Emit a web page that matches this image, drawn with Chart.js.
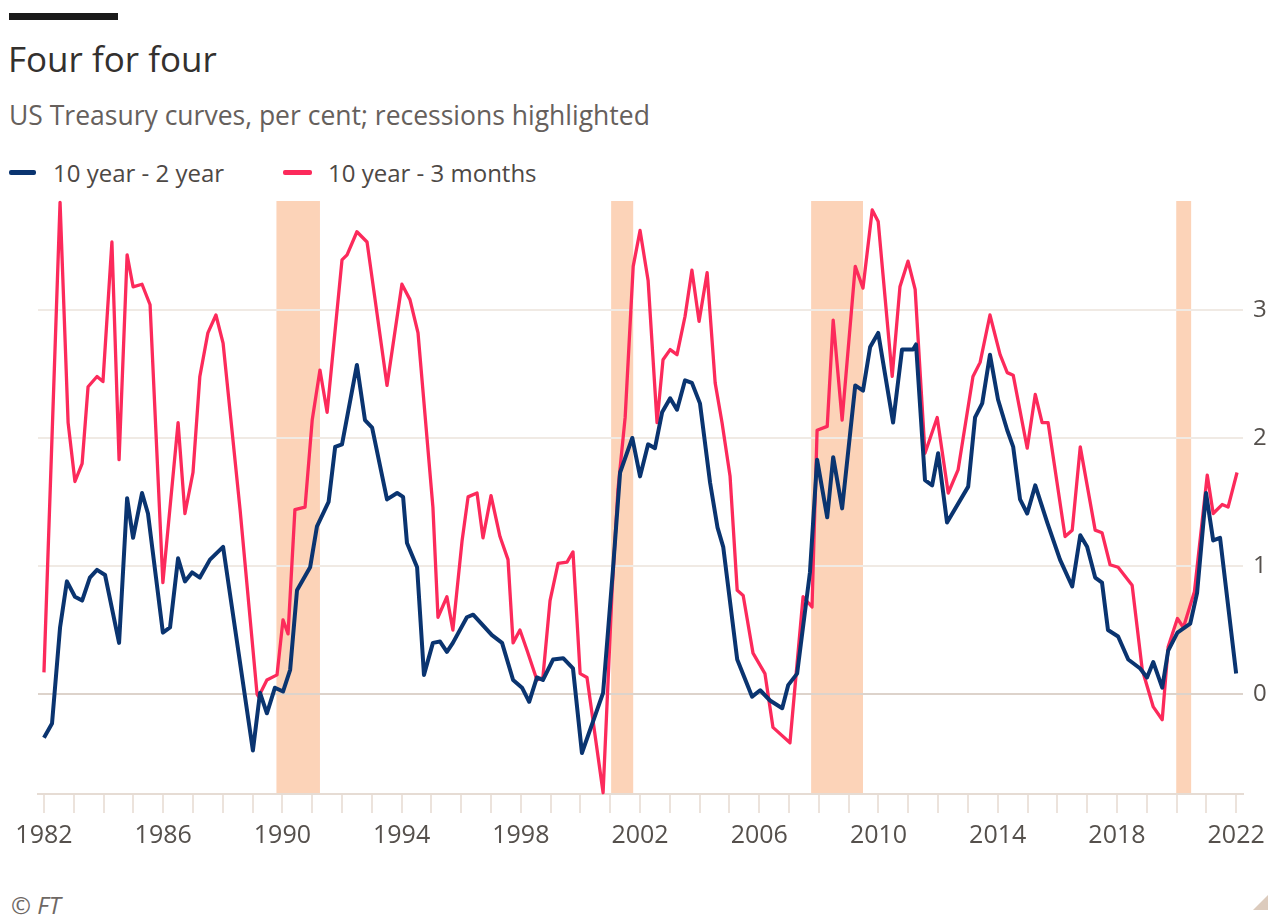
<!DOCTYPE html>
<html>
<head>
<meta charset="utf-8">
<script src="https://cdn.jsdelivr.net/npm/chart.js@4.4.1/dist/chart.umd.min.js"></script>
<style>
  body { margin: 0; background: #ffffff; font-family: "Open Sans", "Noto Sans", sans-serif; }
  #page { position: relative; width: 1275px; height: 920px; overflow: hidden; }
  .abs { position: absolute; white-space: nowrap; }
  #topBar { left: 9px; top: 13px; width: 109px; height: 7px; background: #1a1a1a; }
  #title { left: 8px; top: 41px; font-size: 35px; line-height: 35px; color: #33302e; }
  #subtitle { left: 9px; top: 102px; font-size: 26.5px; line-height: 27px; color: #66605c; }
  .legendKey { height: 5px; border-radius: 2px; }
  .legendText { font-size: 24px; line-height: 24px; color: #4d4845; }
  #credit { left: 11px; top: 893px; font-size: 24px; line-height: 24px; color: #6e6864; font-style: italic; }
  #corner { left: 1253px; top: 895px; width: 0; height: 0; border-left: 15px solid transparent; border-bottom: 15px solid #dccbbd; }
  #chartBox { left: 0; top: 190px; width: 1275px; height: 670px; }
</style>
</head>
<body>
<div id="page">
  <div class="abs" id="topBar"></div>
  <div class="abs" id="title">Four for four</div>
  <div class="abs" id="subtitle">US Treasury curves, per cent; recessions highlighted</div>
  <div class="abs legendKey" style="left:9px; top:170px; width:27px; background:#0a3470;"></div>
  <div class="abs legendText" style="left:53px; top:161px;">10 year - 2 year</div>
  <div class="abs legendKey" style="left:283px; top:170px; width:29px; background:#fc2a5b;"></div>
  <div class="abs legendText" style="left:328px; top:161px;">10 year - 3 months</div>
  <div class="abs" id="chartBox"><canvas id="curveChart"></canvas></div>
  <div class="abs" id="credit">© FT</div>
  <div class="abs" id="corner"></div>
</div>
<script>
// 10 year - 2 year spread
let blueYears = [1982.0, 1982.27, 1982.54, 1982.77, 1983.04, 1983.28, 1983.54, 1983.78, 1984.05, 1984.52,
  1984.79, 1984.99, 1985.29, 1985.49, 1985.99, 1986.23, 1986.5, 1986.73, 1986.97, 1987.23,
  1987.57, 1988.01, 1989.01, 1989.25, 1989.48, 1989.75, 1990.02, 1990.26, 1990.49, 1990.93,
  1991.16, 1991.55, 1991.77, 1992.0, 1992.5, 1992.77, 1993.01, 1993.51, 1993.85, 1994.05,
  1994.18, 1994.52, 1994.75, 1995.05, 1995.29, 1995.52, 1995.72, 1996.19, 1996.4, 1997.03,
  1997.37, 1997.74, 1998.04, 1998.28, 1998.54, 1998.74, 1999.08, 1999.42, 1999.75, 2000.05,
  2000.76, 2001.09, 2001.33, 2001.74, 2002.0, 2002.27, 2002.5, 2002.74, 2003.01, 2003.24,
  2003.51, 2003.74, 2004.01, 2004.35, 2004.6, 2004.79, 2005.26, 2005.76, 2006.03, 2006.36,
  2006.77, 2006.97, 2007.27, 2007.7, 2007.94, 2008.28, 2008.48, 2008.78, 2009.22, 2009.48,
  2009.72, 2009.99, 2010.49, 2010.79, 2011.16, 2011.26, 2011.56, 2011.8, 2012.0, 2012.3,
  2013.01, 2013.24, 2013.48, 2013.74, 2014.01, 2014.32, 2014.52, 2014.75, 2014.99, 2015.26,
  2015.66, 2016.09, 2016.5, 2016.77, 2017.0, 2017.27, 2017.5, 2017.7, 2018.04, 2018.38,
  2018.78, 2019.01, 2019.22, 2019.52, 2019.72, 2020.03, 2020.46, 2020.69, 2020.99, 2021.23,
  2021.46, 2022.0];
let blueValues = [-0.34, -0.23, 0.52, 0.88, 0.76, 0.73, 0.91, 0.97, 0.93, 0.40,
  1.53, 1.22, 1.57, 1.41, 0.48, 0.52, 1.06, 0.88, 0.95, 0.91,
  1.05, 1.15, -0.44, 0.01, -0.15, 0.05, 0.02, 0.19, 0.81, 0.99,
  1.31, 1.50, 1.93, 1.95, 2.57, 2.14, 2.08, 1.52, 1.57, 1.54,
  1.18, 0.99, 0.15, 0.40, 0.41, 0.33, 0.40, 0.60, 0.62, 0.46,
  0.40, 0.11, 0.05, -0.06, 0.13, 0.11, 0.27, 0.28, 0.20, -0.46,
  0.01, 0.97, 1.73, 2.00, 1.70, 1.95, 1.92, 2.20, 2.31, 2.22,
  2.45, 2.43, 2.27, 1.65, 1.30, 1.15, 0.27, -0.02, 0.03, -0.05,
  -0.11, 0.07, 0.16, 0.95, 1.83, 1.38, 1.85, 1.45, 2.41, 2.37,
  2.71, 2.82, 2.12, 2.69, 2.69, 2.73, 1.67, 1.63, 1.88, 1.34,
  1.62, 2.16, 2.27, 2.65, 2.30, 2.06, 1.93, 1.52, 1.41, 1.63,
  1.34, 1.05, 0.84, 1.24, 1.15, 0.91, 0.87, 0.50, 0.45, 0.27,
  0.20, 0.13, 0.25, 0.05, 0.34, 0.48, 0.55, 0.79, 1.57, 1.20,
  1.22, 0.16];

// 10 year - 3 months spread
let redYears = [1982.0, 1982.54, 1982.81, 1983.04, 1983.28, 1983.48, 1983.78, 1983.98, 1984.28, 1984.52,
  1984.79, 1984.99, 1985.29, 1985.56, 1985.99, 1986.5, 1986.73, 1987.0, 1987.23, 1987.5,
  1987.77, 1988.01, 1988.58, 1989.15, 1989.2, 1989.48, 1989.82, 1990.02, 1990.19, 1990.42,
  1990.76, 1991.0, 1991.26, 1991.5, 1992.0, 1992.17, 1992.5, 1992.84, 1993.11, 1993.51,
  1994.01, 1994.28, 1994.55, 1995.05, 1995.22, 1995.52, 1995.72, 1996.03, 1996.23, 1996.53,
  1996.73, 1997.0, 1997.3, 1997.57, 1997.74, 1997.97, 1998.21, 1998.54, 1998.74, 1998.98,
  1999.25, 1999.55, 1999.75, 1999.99, 2000.22, 2000.76, 2001.06, 2001.26, 2001.5, 2001.77,
  2002.0, 2002.27, 2002.57, 2002.77, 2003.01, 2003.24, 2003.51, 2003.74, 2003.98, 2004.25,
  2004.52, 2004.75, 2005.02, 2005.26, 2005.46, 2005.79, 2006.19, 2006.46, 2007.03, 2007.47,
  2007.77, 2007.94, 2008.28, 2008.48, 2008.78, 2009.22, 2009.48, 2009.79, 2009.99, 2010.46,
  2010.72, 2010.99, 2011.23, 2011.56, 2011.97, 2012.34, 2012.67, 2013.17, 2013.41, 2013.74,
  2014.08, 2014.32, 2014.52, 2014.99, 2015.26, 2015.49, 2015.69, 2016.26, 2016.5, 2016.77,
  2017.27, 2017.5, 2017.77, 2018.04, 2018.51, 2018.85, 2019.22, 2019.52, 2019.72, 2020.03,
  2020.23, 2020.6, 2021.03, 2021.23, 2021.53, 2021.73, 2022.03];
let redValues = [0.17, 3.84, 2.12, 1.66, 1.80, 2.40, 2.48, 2.44, 3.53, 1.83,
  3.43, 3.18, 3.20, 3.04, 0.87, 2.12, 1.41, 1.73, 2.48, 2.82,
  2.96, 2.74, 1.44, 0.00, -0.02, 0.11, 0.15, 0.58, 0.47, 1.44,
  1.46, 2.14, 2.53, 2.20, 3.39, 3.43, 3.61, 3.53, 3.08, 2.41,
  3.20, 3.08, 2.82, 1.46, 0.60, 0.76, 0.50, 1.20, 1.54, 1.57,
  1.22, 1.55, 1.23, 1.05, 0.40, 0.50, 0.34, 0.11, 0.13, 0.73,
  1.02, 1.03, 1.11, 0.16, 0.13, -0.77, 0.80, 1.60, 2.16, 3.34,
  3.62, 3.23, 2.12, 2.61, 2.69, 2.65, 2.95, 3.31, 2.91, 3.29,
  2.43, 2.12, 1.70, 0.81, 0.77, 0.32, 0.16, -0.26, -0.38, 0.76,
  0.68, 2.06, 2.09, 2.92, 2.14, 3.34, 3.17, 3.78, 3.69, 2.48,
  3.18, 3.38, 3.16, 1.88, 2.16, 1.57, 1.75, 2.48, 2.59, 2.96,
  2.65, 2.51, 2.49, 1.92, 2.34, 2.12, 2.12, 1.23, 1.28, 1.93,
  1.28, 1.26, 1.01, 0.99, 0.85, 0.19, -0.10, -0.20, 0.37, 0.59,
  0.52, 0.80, 1.71, 1.41, 1.48, 1.46, 1.73];

// recessions, start and end as decimal years
let recessionStart = [1989.8, 2001.03, 2007.74, 2019.99];
let recessionEnd = [1991.26, 2001.77, 2009.48, 2020.49];

let yTicks = [0, 1, 2, 3];

function toPoints(xs, ys) {
    let out = [];
    for (let i = 0; i < xs.length; i++) {
        out.push({ x: xs[i], y: ys[i] });
    }
    return out;
}

// peach bands behind the grid
const recessionBands = {
    id: 'recessionBands',
    beforeDraw(chart) {
        const ctx = chart.ctx;
        const area = chart.chartArea;
        const xs = chart.scales.x;
        ctx.save();
        ctx.fillStyle = '#fcd3b8';
        for (let i = 0; i < recessionStart.length; i++) {
            let x0 = xs.getPixelForValue(recessionStart[i]);
            let x1 = xs.getPixelForValue(recessionEnd[i]);
            ctx.fillRect(x0, area.top, x1 - x0, area.bottom - area.top);
        }
        ctx.restore();
    }
};

const ctx = document.getElementById('curveChart');
const curveChart = new Chart(ctx, {
    type: 'line',
    data: {
        datasets: [
            {
                label: '10 year - 2 year',
                data: toPoints(blueYears, blueValues),
                borderColor: '#0a3470',
                borderWidth: 4,
                pointRadius: 0,
                tension: 0,
                borderJoinStyle: 'round',
                clip: 6
            },
            {
                label: '10 year - 3 months',
                data: toPoints(redYears, redValues),
                borderColor: '#fc2a5b',
                borderWidth: 3.3,
                pointRadius: 0,
                tension: 0,
                borderJoinStyle: 'round',
                clip: 6
            }
        ]
    },
    options: {
        responsive: true,
        maintainAspectRatio: false,
        animation: false,
        layout: {
            padding: { top: 11, left: 38, right: 0, bottom: 0 }
        },
        plugins: {
            legend: { display: false },
            tooltip: { enabled: false }
        },
        scales: {
            x: {
                type: 'linear',
                min: 1981.8,
                max: 2022.23,
                afterFit: function(scale) { scale.height = 66; },
                ticks: {
                    stepSize: 1,
                    includeBounds: false,
                    autoSkip: false,
                    maxRotation: 0,
                    padding: 8,
                    color: '#55504c',
                    font: { family: 'Open Sans', size: 25 },
                    callback: function(v) {
                        let yr = Math.round(v);
                        return (yr - 1982) % 4 === 0 ? String(yr) : '';
                    }
                },
                grid: {
                    drawOnChartArea: false,
                    drawTicks: true,
                    tickLength: 19,
                    color: '#ece3dc',
                    lineWidth: 2
                },
                border: { color: '#e6dcd4', width: 2 }
            },
            y: {
                position: 'right',
                min: -0.78,
                max: 3.85,
                afterFit: function(scale) {
                    scale.width = 32;
                    scale.paddingTop = 0;
                    scale.paddingBottom = 0;
                },
                afterBuildTicks: function(scale) {
                    scale.ticks = yTicks.map(v => ({ value: v }));
                },
                ticks: {
                    padding: 10,
                    color: '#55504c',
                    font: { family: 'Open Sans', size: 24 }
                },
                grid: {
                    drawTicks: false,
                    lineWidth: 2,
                    color: function(c) {
                        return c.tick && c.tick.value === 0 ? '#ddd3cb' : '#f0eae4';
                    }
                },
                border: { display: false }
            }
        }
    },
    plugins: [recessionBands]
});
</script>
</body>
</html>
